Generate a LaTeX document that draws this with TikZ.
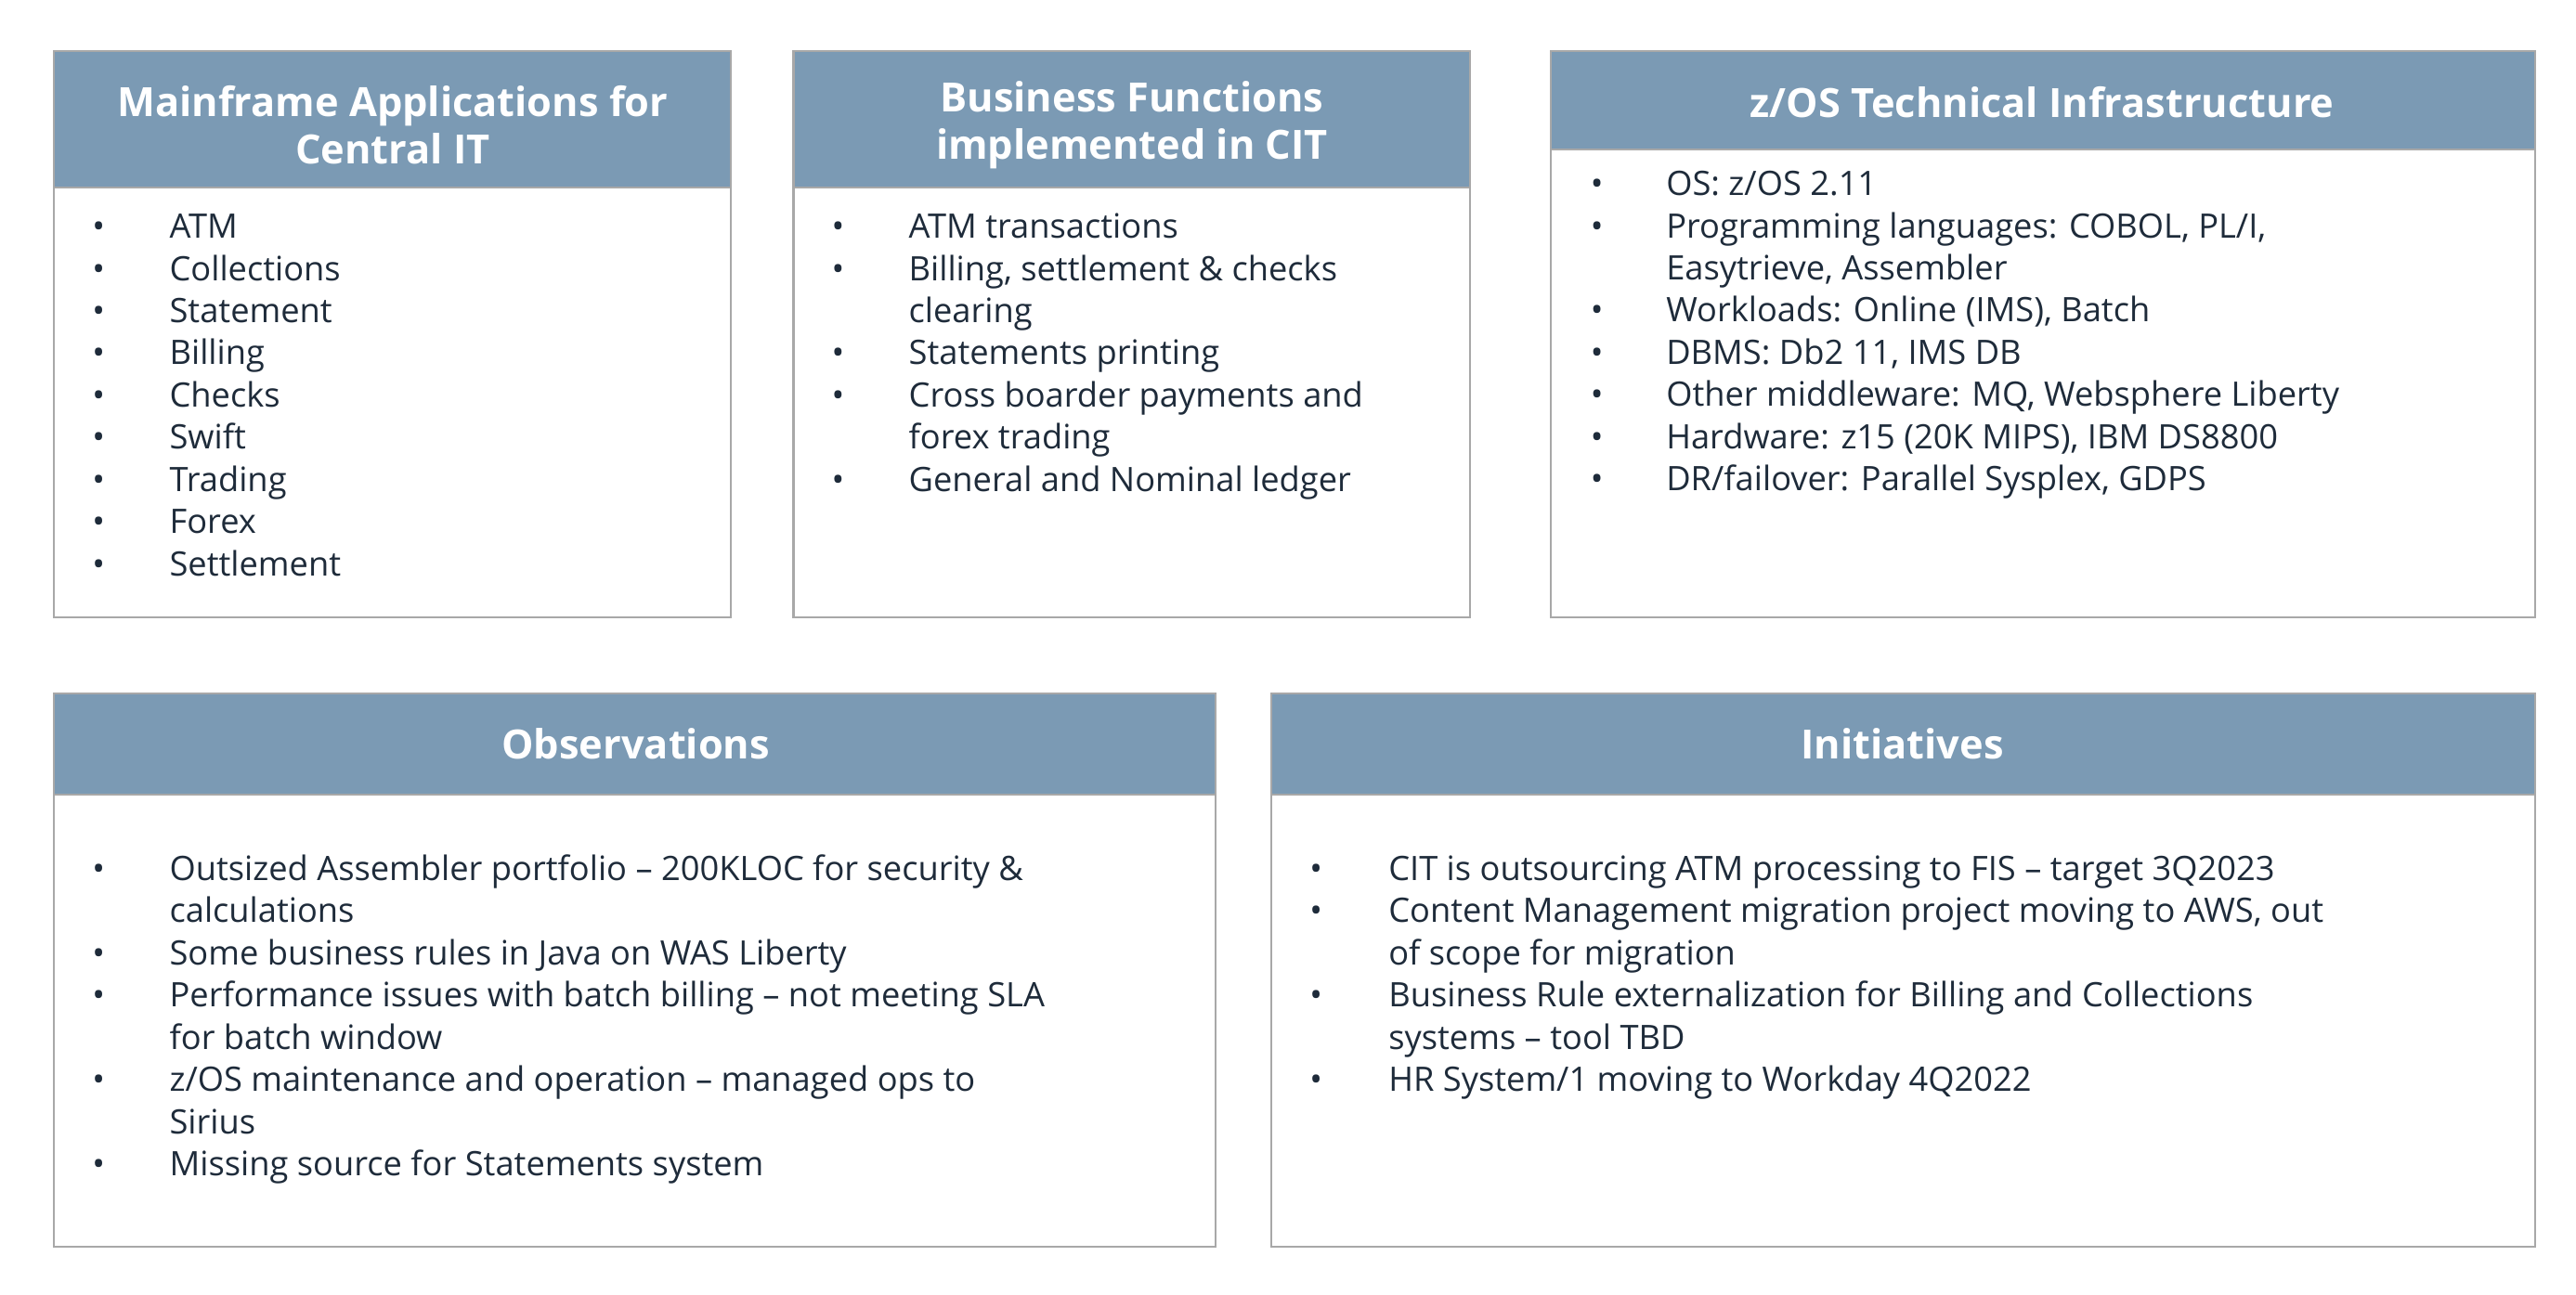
\documentclass[tikz,border=0pt]{standalone}
\usepackage{fontspec}
\setmainfont{Open Sans}
\definecolor{hdr}{HTML}{7B9AB4}
\definecolor{txt}{HTML}{1E2B3A}
\definecolor{brd}{HTML}{A8A8A8}
\tikzset{
 boxf/.style={draw=brd,line width=1.2pt,fill=white},
 hdrf/.style={draw=brd,line width=1.2pt,fill=hdr},
 htext/.style={text=white,font=\fontsize{24.5}{29}\selectfont\bfseries,align=center},
 it/.style={anchor=base west,inner sep=0,text=txt,font=\fontsize{20.5}{25.6}\selectfont},
 bul/.style={anchor=base west,inner sep=0,text=txt,font=\fontsize{20.5}{25.6}\selectfont}
}
\newcommand{\bitem}[5]{\node[bul] (#5b) at (#1,#3) {•};\node[it] (#5) at (#2,#3) {#4};}
\newcommand{\bitemtwo}[6]{\node[bul] (#6b) at (#1,#3) {•};\node[it] (#6) at (#2,#3) {#4};\node[it] (#6x) at (#2,#3+25.7) {#5};}
\begin{document}
\begin{tikzpicture}[x=1pt,y=-1pt]
\useasboundingbox (0,0) rectangle (1568,788);
% box 1
\draw[boxf] (33,31) rectangle (445,376);
\draw[hdrf] (33,31) rectangle (445,114);
\node[htext] (h1) at (239,76) {Mainframe Applications for\\Central IT};
\foreach \t [count=\i] in {ATM,Collections,Statement,Billing,Checks,Swift,Trading,Forex,Settlement}
 {\node[bul] (a\i b) at (56,145+25.7*\i-25.7) {•};\node[it] (a\i) at (103,145+25.7*\i-25.7) {\t};}
% box 2
\draw[boxf] (483,31) rectangle (895,376);
\draw[hdrf] (483,31) rectangle (895,114);
\node[htext] (h2) at (689,76) {Business Functions\\implemented in CIT};
\bitem{506}{553}{145}{ATM transactions}{b1}
\bitemtwo{506}{553}{170.7}{Billing, settlement \& checks}{clearing}{b2}
\bitem{506}{553}{222.1}{Statements printing}{b3}
\bitemtwo{506}{553}{247.8}{Cross boarder payments and}{forex trading}{b4}
\bitem{506}{553}{299.2}{General and Nominal ledger}{b5}
% box 3
\draw[boxf] (944,31) rectangle (1543,376);
\draw[hdrf] (944,31) rectangle (1543,91);
\node[htext] (h3) at (1243,62) {z/OS Technical Infrastructure};
\bitem{968}{1014}{119}{OS: z/OS 2.11}{c1}
\bitemtwo{968}{1014}{144.7}{Programming languages: COBOL, PL/I,}{Easytrieve, Assembler}{c2}
\bitem{968}{1014}{196.1}{Workloads: Online (IMS), Batch}{c3}
\bitem{968}{1014}{221.8}{DBMS: Db2 11, IMS DB}{c4}
\bitem{968}{1014}{247.5}{Other middleware: MQ, Websphere Liberty}{c5}
\bitem{968}{1014}{273.2}{Hardware: z15 (20K MIPS), IBM DS8800}{c6}
\bitem{968}{1014}{298.9}{DR/failover: Parallel Sysplex, GDPS}{c7}
% box 4
\draw[boxf] (33,422) rectangle (740,759);
\draw[hdrf] (33,422) rectangle (740,484);
\node[htext] (h4) at (387,453) {Observations};
\bitemtwo{56}{103}{536}{Outsized Assembler portfolio – 200KLOC for security \&}{calculations}{d1}
\bitem{56}{103}{587.4}{Some business rules in Java on WAS Liberty}{d2}
\bitemtwo{56}{103}{613.1}{Performance issues with batch billing – not meeting SLA}{for batch window}{d3}
\bitemtwo{56}{103}{664.5}{z/OS maintenance and operation – managed ops to}{Sirius}{d4}
\bitem{56}{103}{715.9}{Missing source for Statements system}{d5}
% box 5
\draw[boxf] (774,422) rectangle (1543,759);
\draw[hdrf] (774,422) rectangle (1543,484);
\node[htext] (h5) at (1158,453) {Initiatives};
\bitem{797}{845}{536}{CIT is outsourcing ATM processing to FIS – target 3Q2023}{e1}
\bitemtwo{797}{845}{561.7}{Content Management migration project moving to AWS, out}{of scope for migration}{e2}
\bitemtwo{797}{845}{613.1}{Business Rule externalization for Billing and Collections}{systems – tool TBD}{e3}
\bitem{797}{845}{664.5}{HR System/1 moving to Workday 4Q2022}{e4}
\end{tikzpicture}
\end{document}
